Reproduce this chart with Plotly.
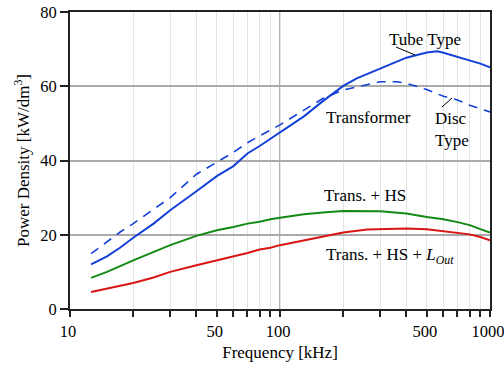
import plotly.graph_objects as go

# ---- data ----
freq_tube = [12.6, 15, 17.3, 20, 25, 30, 40, 50, 60, 70, 80, 90, 100, 130, 160, 200, 232, 300, 400, 500, 560, 600, 700, 800, 900, 1000]
tube_type = [12.0, 14.2, 16.5, 19.2, 23.0, 26.6, 31.7, 35.8, 38.5, 41.9, 43.9, 45.9, 47.6, 51.9, 56.0, 60.1, 62.1, 64.8, 67.7, 69.1, 69.4, 69.0, 67.9, 67.0, 66.1, 65.1]

freq_disc = [12.6, 17.4, 20, 30, 40, 50, 60, 70, 80, 90, 100, 130, 160, 200, 250, 300, 360, 400, 500, 600, 650, 700, 800, 1000]
disc_type = [14.9, 20.8, 23.0, 30.0, 36.3, 39.6, 42.2, 44.8, 46.5, 48.2, 49.6, 53.6, 56.7, 59.0, 60.3, 61.2, 61.2, 60.8, 59.1, 57.3, 56.8, 56.3, 54.9, 53.1]

freq_hs = [12.6, 15, 20, 25, 30, 40, 50, 60, 70, 80, 90, 100, 130, 160, 200, 300, 400, 500, 600, 700, 800, 900, 1000]
trans_hs = [8.4, 10.0, 13.1, 15.3, 17.2, 19.7, 21.2, 22.1, 23.0, 23.5, 24.2, 24.6, 25.5, 26.0, 26.4, 26.3, 25.7, 24.8, 24.2, 23.4, 22.6, 21.5, 20.6]

freq_lout = [12.6, 15, 20, 25, 30, 40, 50, 60, 70, 80, 90, 100, 130, 160, 200, 260, 300, 400, 500, 600, 700, 800, 900, 1000]
trans_hs_lout = [4.6, 5.5, 7.0, 8.5, 10.0, 11.8, 13.1, 14.0, 15.1, 16.0, 16.5, 17.2, 18.5, 19.6, 20.6, 21.4, 21.5, 21.7, 21.5, 21.0, 20.5, 20.1, 19.4, 18.5]

x_tickvals = [10, 50, 100, 500, 1000]
x_ticktext = ["10", "50", "100", "500", "1000"]
x_minor_vals = [20, 30, 40, 60, 70, 80, 90, 200, 300, 400, 600, 700, 800, 900]
y_tickvals = [0, 20, 40, 60, 80]

BLUE = "#1440d8"
GREEN = "#138a13"
RED = "#d81414"
FONT = "Liberation Serif"
FS = 17
TFS = 16.5
LIGHT = "#e4e4e4"

W, H = 504, 367
# plot area in page pixels
PL, PT, PR, PB = 70, 12, 490, 309
L, T, R, B = PL, PT, W - PR, H - PB
pw, ph = PR - PL, PB - PT


def px(xp, yp):
    return (xp - PL) / pw, 1 - (yp - PT) / ph


fig = go.Figure()
fig.add_trace(go.Scatter(x=freq_disc, y=disc_type, mode="lines",
                         line=dict(color=BLUE, width=1.6, dash="9px,7px")))
fig.add_trace(go.Scatter(x=freq_tube, y=tube_type, mode="lines",
                         line=dict(color=BLUE, width=2)))
fig.add_trace(go.Scatter(x=freq_hs, y=trans_hs, mode="lines",
                         line=dict(color=GREEN, width=2)))
fig.add_trace(go.Scatter(x=freq_lout, y=trans_hs_lout, mode="lines",
                         line=dict(color=RED, width=2)))

# darker major gridline at 100 kHz
fig.add_shape(type="line", xref="x", yref="paper", x0=100, x1=100, y0=0, y1=1,
              line=dict(color="#9a9a9a", width=1.5), layer="between")

ann_font = dict(family=FONT, size=FS, color="black")
labels = [
    (425, 39, "Tube Type", "center", "center"),
    (368, 117, "Transformer", "center", "center"),
    (433, 129, "Disc<br>Type", "left", "left"),
    (365, 195, "Trans. + HS", "center", "center"),
    (324, 256, "Trans. + HS + <i>L</i><sub><i>Out</i></sub>", "left", "left"),
]
for xp, yp, txt, al, xa in labels:
    ax, ay = px(xp, yp)
    fig.add_annotation(x=ax, y=ay, xref="paper", yref="paper", text=txt,
                       showarrow=False, font=ann_font, align=al,
                       xanchor=xa, yanchor="middle")

# leader lines
x0, y0 = px(396, 47); x1, y1 = px(415, 55)
fig.add_shape(type="line", xref="paper", yref="paper", x0=x0, y0=y0, x1=x1, y1=y1,
              line=dict(color="black", width=1))
x0, y0 = px(442, 107); x1, y1 = px(452, 98)
fig.add_shape(type="line", xref="paper", yref="paper", x0=x0, y0=y0, x1=x1, y1=y1,
              line=dict(color="black", width=1))

fig.update_layout(
    width=W, height=H,
    margin=dict(l=L, r=R, t=T, b=B, autoexpand=False),
    paper_bgcolor="white", plot_bgcolor="white",
    showlegend=False,
    font=dict(family=FONT, size=FS, color="black"),
    xaxis=dict(
        type="log", range=[1, 3], automargin=False,
        tickvals=x_tickvals, ticktext=x_ticktext, tickangle=0,
        ticklabeloverflow="allow", ticklabelshift=-2,
        ticks="outside", ticklen=6, tickwidth=1.5, tickcolor="#222",
        showgrid=True, gridcolor=LIGHT, gridwidth=1.2,
        minor=dict(tickvals=x_minor_vals, ticks="outside", ticklen=6, tickwidth=1.5,
                   tickcolor="#222", showgrid=True, gridcolor=LIGHT, gridwidth=1.2),
        showline=True, linecolor="#222", linewidth=1.8, mirror=True,
        zeroline=False,
        tickfont=dict(family=FONT, size=TFS),
        title=dict(text="Frequency [kHz]", font=dict(family=FONT, size=FS), standoff=6),
    ),
    yaxis=dict(
        range=[0, 80], automargin=False,
        tickvals=y_tickvals, ticklabeloverflow="allow",
        ticks="outside", ticklen=8, tickwidth=1.5, tickcolor="#222",
        showgrid=True, gridcolor="#aaaaaa", gridwidth=1.5,
        showline=True, linecolor="#222", linewidth=1.8, mirror=True,
        zeroline=False,
        tickfont=dict(family=FONT, size=TFS),
        title=dict(text="Power Density [kW/dm<sup>3</sup>]", font=dict(family=FONT, size=FS), standoff=6),
    ),
)

fig.write_html("out.html", config={"displayModeBar": False},
               post_script="document.body.style.margin='0';")
